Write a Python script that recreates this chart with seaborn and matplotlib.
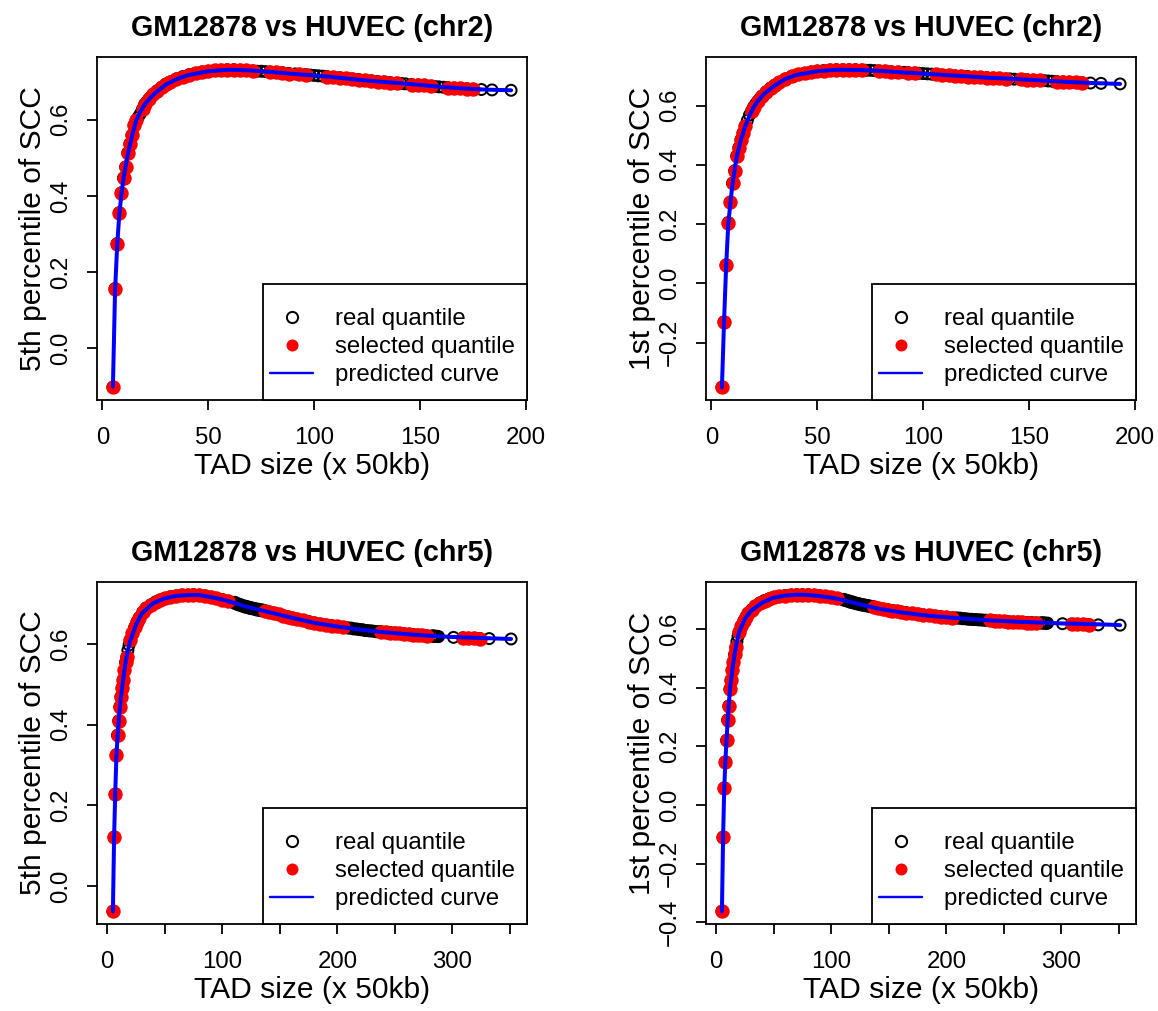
import numpy as np
import pandas as pd
import matplotlib
matplotlib.use('Agg')
import matplotlib.pyplot as plt
from matplotlib.lines import Line2D
from matplotlib.patches import Rectangle
import seaborn as sns

# ---------------- data ----------------
# panel 1: chr2, 5th percentile
chr2_x = [5, 6, 7, 8, 9, 10, 11, 12, 13, 14, 15, 16, 17, 18, 19, 20, 21, 22, 23, 24, 26, 28, 30, 32, 35, 38, 41, 44, 47, 50,
          53, 56, 59, 62, 65, 68, 71, 73, 75, 77, 79, 82, 85, 88, 91, 93, 96, 98, 100, 102, 104, 106, 109, 112, 115, 118, 121,
          124, 127, 130, 133, 136, 139, 141, 143, 146, 149, 152, 155, 157, 159, 161, 163, 166, 169, 172, 175, 179, 184, 193]
chr2_sel = [1, 1, 1, 1, 1, 1, 1, 1, 1, 1, 1, 1, 0, 0, 1, 1, 0, 1, 0, 1, 1, 1, 1, 1, 1, 1, 1, 1, 1, 1,
            1, 1, 1, 1, 1, 1, 1, 0, 0, 0, 1, 1, 1, 1, 0, 1, 1, 0, 0, 0, 0, 1, 1, 1, 1, 1, 1,
            1, 1, 1, 1, 1, 1, 0, 0, 1, 1, 1, 1, 0, 0, 0, 1, 1, 1, 1, 1, 0, 0, 0]
chr2_p5_y = [-0.102, 0.157, 0.275, 0.356, 0.408, 0.447, 0.476, 0.513, 0.537, 0.559, 0.585, 0.598, 0.607, 0.616, 0.628, 0.640,
             0.647, 0.654, 0.660, 0.666, 0.676, 0.685, 0.693, 0.699, 0.707, 0.713, 0.718, 0.722, 0.725, 0.727, 0.729, 0.730,
             0.731, 0.731, 0.730, 0.729, 0.728, 0.727, 0.727, 0.726, 0.725, 0.724, 0.723, 0.721, 0.720, 0.719, 0.718, 0.717,
             0.716, 0.715, 0.714, 0.713, 0.711, 0.710, 0.708, 0.707, 0.705, 0.703, 0.702, 0.700, 0.699, 0.697, 0.696, 0.695,
             0.694, 0.692, 0.691, 0.690, 0.688, 0.687, 0.686, 0.685, 0.684, 0.683, 0.682, 0.681, 0.680, 0.679, 0.678, 0.677]
chr2_pred_x = [5, 6, 7, 8, 9, 10, 11, 12, 13, 14, 15, 16, 18, 20, 22, 25, 30, 35, 40, 50, 60, 70, 80, 90, 100, 110, 120,
               130, 140, 150, 160, 170, 180, 193]
chr2_p5_pred = [-0.100, 0.150, 0.270, 0.350, 0.405, 0.445, 0.478, 0.508, 0.533, 0.556, 0.578, 0.598, 0.622, 0.640, 0.653,
                0.670, 0.692, 0.706, 0.716, 0.727, 0.731, 0.729, 0.725, 0.720, 0.716, 0.711, 0.705, 0.700, 0.696, 0.691,
                0.686, 0.682, 0.679, 0.677]

# panel 2: chr2, 1st percentile
chr2_p1_y = [-0.351, -0.130, 0.062, 0.205, 0.273, 0.338, 0.380, 0.430, 0.458, 0.485, 0.508, 0.531, 0.550, 0.568, 0.582, 0.596,
             0.606, 0.615, 0.624, 0.632, 0.647, 0.659, 0.669, 0.678, 0.690, 0.699, 0.705, 0.709, 0.713, 0.716, 0.718, 0.720,
             0.721, 0.721, 0.721, 0.721, 0.720, 0.719, 0.719, 0.718, 0.717, 0.716, 0.714, 0.713, 0.712, 0.711, 0.710, 0.709,
             0.708, 0.707, 0.706, 0.705, 0.703, 0.702, 0.700, 0.699, 0.698, 0.696, 0.695, 0.694, 0.693, 0.692, 0.690, 0.690,
             0.689, 0.688, 0.687, 0.686, 0.685, 0.684, 0.683, 0.682, 0.681, 0.680, 0.679, 0.678, 0.677, 0.676, 0.675, 0.673]
chr2_p1_pred = [-0.351, -0.130, 0.060, 0.200, 0.272, 0.335, 0.382, 0.428, 0.457, 0.484, 0.508, 0.530, 0.566, 0.595, 0.616,
                0.640, 0.668, 0.690, 0.703, 0.716, 0.721, 0.720, 0.717, 0.712, 0.708, 0.703, 0.699, 0.694, 0.691, 0.687,
                0.683, 0.679, 0.676, 0.673]

# panels 3 & 4: chr5
chr5_x = [5, 6, 7, 8, 9, 10, 11, 12, 13, 14, 15, 16, 17, 18, 19, 20, 22, 24, 26, 28, 31, 34, 38, 42, 46,
          50, 55, 60, 65, 70, 75, 80, 85, 90, 95, 100, 105,
          110, 111, 112, 113, 114, 115, 116, 117, 118, 119, 120, 121, 122, 123, 124, 125, 126, 127, 128, 129, 130,
          131, 132, 133, 134, 135, 136,
          137, 141, 145, 149, 153, 157, 161, 165, 170, 175, 180, 185, 190, 195, 200, 205,
          208, 210, 212, 214, 216, 218, 220, 222, 224, 226, 228, 230, 232, 234, 236,
          238, 242, 246, 250, 254, 258, 262, 266, 270, 274, 278,
          282, 283, 284, 285, 286, 287, 288,
          301, 309, 314, 319, 324, 332, 351]
chr5_sel = [1, 1, 1, 1, 1, 1, 1, 1, 1, 1, 1, 1, 1, 0, 0, 1, 1, 1, 1, 1, 1, 1, 1, 1, 1,
            1, 1, 1, 1, 1, 1, 1, 1, 1, 1, 1, 1,
            0, 0, 0, 0, 0, 0, 0, 0, 0, 0, 0, 0, 0, 0, 0, 0, 0, 0, 0, 0, 0,
            0, 0, 0, 0, 0, 0,
            1, 1, 1, 1, 1, 1, 1, 1, 1, 1, 1, 1, 1, 1, 1, 1,
            0, 0, 0, 0, 0, 0, 0, 0, 0, 0, 0, 0, 0, 0, 0,
            1, 1, 1, 1, 1, 1, 1, 1, 1, 1, 1,
            0, 0, 0, 0, 0, 0, 0,
            0, 1, 1, 1, 1, 0, 0]
chr5_p5_y = [-0.063, 0.121, 0.227, 0.326, 0.374, 0.410, 0.445, 0.470, 0.492, 0.512, 0.535, 0.555, 0.568, 0.585, 0.598,
             0.610, 0.628, 0.643, 0.656, 0.666, 0.680, 0.690, 0.698, 0.705, 0.710,
             0.714, 0.718, 0.720, 0.722, 0.722, 0.723, 0.722, 0.720, 0.717, 0.714, 0.711, 0.707,
             0.703, 0.704, 0.700, 0.701, 0.698, 0.699, 0.696, 0.697, 0.694, 0.695, 0.692, 0.694, 0.691, 0.692, 0.689,
             0.691, 0.688, 0.689, 0.687, 0.688, 0.685, 0.687, 0.684, 0.686, 0.683, 0.685, 0.683,
             0.683, 0.680, 0.677, 0.674, 0.671, 0.668, 0.665, 0.662, 0.659, 0.656, 0.653, 0.650, 0.648, 0.646, 0.644, 0.642,
             0.641, 0.640, 0.640, 0.638, 0.638, 0.637, 0.636, 0.636, 0.634, 0.634, 0.633, 0.633, 0.632, 0.631, 0.631,
             0.631, 0.630, 0.629, 0.628, 0.627, 0.626, 0.625, 0.624, 0.623, 0.622, 0.621,
             0.620, 0.621, 0.620, 0.619, 0.620, 0.619, 0.619,
             0.617, 0.616, 0.615, 0.615, 0.614, 0.614, 0.613]
chr5_p1_y = [-0.363, -0.111, 0.057, 0.147, 0.220, 0.290, 0.337, 0.395, 0.425, 0.460, 0.488, 0.513, 0.537, 0.557, 0.575,
             0.590, 0.611, 0.628, 0.642, 0.653, 0.666, 0.678, 0.689, 0.697, 0.703,
             0.708, 0.711, 0.714, 0.716, 0.717, 0.717, 0.717, 0.715, 0.713, 0.711, 0.708, 0.704,
             0.700, 0.701, 0.697, 0.698, 0.695, 0.696, 0.692, 0.694, 0.690, 0.691, 0.688, 0.689, 0.686, 0.687, 0.684,
             0.685, 0.682, 0.683, 0.681, 0.682, 0.679, 0.680, 0.678, 0.679, 0.676, 0.677, 0.675,
             0.675, 0.671, 0.668, 0.666, 0.663, 0.661, 0.658, 0.656, 0.653, 0.651, 0.648, 0.646, 0.644, 0.642, 0.640, 0.638,
             0.638, 0.637, 0.637, 0.635, 0.635, 0.634, 0.633, 0.633, 0.632, 0.632, 0.631, 0.631, 0.630, 0.630, 0.629,
             0.629, 0.628, 0.627, 0.626, 0.625, 0.624, 0.624, 0.623, 0.622, 0.622, 0.621,
             0.621, 0.620, 0.621, 0.620, 0.620, 0.619, 0.620,
             0.618, 0.617, 0.616, 0.616, 0.615, 0.614, 0.613]
chr5_pred_x = [5, 6, 7, 8, 9, 10, 12, 14, 16, 18, 20, 25, 30, 40, 50, 60, 70, 80, 90, 100, 110, 120, 140, 160, 180, 200, 220,
               240, 260, 280, 300, 320, 340, 351]
chr5_p5_pred = [-0.063, 0.120, 0.230, 0.320, 0.370, 0.410, 0.470, 0.515, 0.555, 0.585, 0.608, 0.648, 0.676, 0.702, 0.714,
                0.720, 0.722, 0.722, 0.717, 0.711, 0.703, 0.694, 0.680, 0.666, 0.653, 0.644, 0.636, 0.630, 0.625, 0.621,
                0.618, 0.616, 0.614, 0.613]
chr5_p1_pred = [-0.363, -0.110, 0.055, 0.150, 0.220, 0.290, 0.395, 0.460, 0.513, 0.557, 0.590, 0.635, 0.661, 0.690, 0.707,
                0.714, 0.717, 0.716, 0.712, 0.707, 0.699, 0.689, 0.670, 0.657, 0.647, 0.640, 0.634, 0.629, 0.625, 0.622,
                0.619, 0.617, 0.615, 0.613]

titles = ["GM12878 vs HUVEC (chr2)", "GM12878 vs HUVEC (chr2)", "GM12878 vs HUVEC (chr5)", "GM12878 vs HUVEC (chr5)"]
ylabels = ["5th percentile of SCC", "1st percentile of SCC", "5th percentile of SCC", "1st percentile of SCC"]
xlabel = "TAD size (x 50kb)"
legend_labels = ["real quantile", "selected quantile", "predicted curve"]
yticks_list = [[0.0, 0.2, 0.4, 0.6], [-0.2, 0.0, 0.2, 0.4, 0.6], [0.0, 0.2, 0.4, 0.6], [-0.4, -0.2, 0.0, 0.2, 0.4, 0.6]]
xticks_top = [0, 50, 100, 150, 200]
xticks_bottom = [0, 50, 100, 150, 200, 250, 300, 350]
xticklabels_bottom = ["0", "", "100", "", "200", "", "300", ""]

panels = [
    (chr2_x, chr2_p5_y, chr2_sel, chr2_pred_x, chr2_p5_pred),
    (chr2_x, chr2_p1_y, chr2_sel, chr2_pred_x, chr2_p1_pred),
    (chr5_x, chr5_p5_y, chr5_sel, chr5_pred_x, chr5_p5_pred),
    (chr5_x, chr5_p1_y, chr5_sel, chr5_pred_x, chr5_p1_pred),
]

# ---------------- style ----------------
sns.set_style('ticks')
plt.rcParams['font.family'] = ['Liberation Sans', 'DejaVu Sans']
plt.rcParams['text.color'] = 'black'
plt.rcParams['axes.labelcolor'] = 'black'
plt.rcParams['xtick.color'] = 'black'
plt.rcParams['ytick.color'] = 'black'

W, H = 1158, 1011
DPI = 144
fig = plt.figure(figsize=(W / DPI, H / DPI), dpi=DPI)

# axes boxes in pixels (left, top, right, bottom)
boxes = [(97, 57, 527, 400), (706, 57, 1136, 400), (97, 582, 527, 924), (706, 582, 1136, 924)]
ylabel_x = [33, 642, 33, 642]

for i, (box, data) in enumerate(zip(boxes, panels)):
    l, t, r, b = box
    wpx, hpx = r - l, b - t
    ax = fig.add_axes([l / W, 1 - b / H, wpx / W, hpx / H])
    xs, ys, sel, px, py = data
    df = pd.DataFrame({"size": xs, "q": ys, "sel": sel})
    dsel = df[df["sel"] == 1]
    dpred = pd.DataFrame({"size": px, "pred": py})

    sns.scatterplot(data=df, x="size", y="q", ax=ax, s=30, facecolor="none",
                    edgecolor="black", linewidth=1.0, zorder=2, legend=False)
    sns.scatterplot(data=dsel, x="size", y="q", ax=ax, s=52, color="red",
                    linewidth=0, zorder=3, legend=False)
    sns.lineplot(data=dpred, x="size", y="pred", ax=ax, color="blue", lw=2.0,
                 zorder=4, legend=False, sort=True, estimator=None)

    # limits (R-style 4% padding)
    xmin, xmax = min(xs), max(xs)
    ymin, ymax = min(ys), max(ys)
    dx, dy = (xmax - xmin) * 0.04, (ymax - ymin) * 0.04
    ax.set_xlim(xmin - dx, xmax + dx)
    ax.set_ylim(ymin - dy, ymax + dy)

    if i < 2:
        ax.set_xticks(xticks_top)
        ax.set_xticklabels([str(v) for v in xticks_top])
    else:
        ax.set_xticks(xticks_bottom)
        ax.set_xticklabels(xticklabels_bottom)
    yt = yticks_list[i]
    ax.set_yticks(yt)
    ax.set_yticklabels([f"{v:.1f}".replace("-", "\u2212") for v in yt], rotation=90, va="center")

    for sp in ax.spines.values():
        sp.set_visible(True)
        sp.set_linewidth(0.9)
        sp.set_color("black")
    ax.tick_params(axis="both", direction="out", length=5, width=0.9, labelsize=12, colors="black")
    ax.tick_params(axis="x", pad=8.5)
    ax.tick_params(axis="y", pad=7.5)
    ax.grid(False)

    ax.set_xlabel(xlabel, fontsize=15)
    ax.set_ylabel(ylabels[i], fontsize=15)
    ax.xaxis.label.set_va("center")
    ax.xaxis.set_label_coords(0.5, -66 / hpx)
    ax.yaxis.label.set_va("center")
    ax.yaxis.set_label_coords(-(l - ylabel_x[i]) / wpx, 0.5)

    ax.set_title(titles[i], fontsize=14.4, fontweight="bold", y=1 + 29 / hpx, va="center", pad=0)

    # legend frame (R style, anchored at bottom-right corner of plot region)
    fx0 = 166 / wpx
    fh = 116 / hpx
    ax.add_patch(Rectangle((fx0, 0), 1 - fx0, fh, transform=ax.transAxes, facecolor="white",
                           edgecolor="black", linewidth=0.9, zorder=5, clip_on=False))
    handles = [
        Line2D([], [], ls="none", marker="o", mfc="none", mec="black", ms=5.6, mew=1.0),
        Line2D([], [], ls="none", marker="o", mfc="red", mec="red", ms=6.0, mew=0),
        Line2D([], [], color="blue", lw=1.2),
    ]
    leg = ax.legend(handles, legend_labels, loc="lower left", bbox_to_anchor=(173 / wpx, 14 / hpx),
                    borderaxespad=0, fontsize=12, frameon=False,
                    handlelength=1.8, handletextpad=0.92, borderpad=0, labelspacing=0.25)
    leg.set_zorder(6)

fig.savefig("out.png", dpi=DPI)
